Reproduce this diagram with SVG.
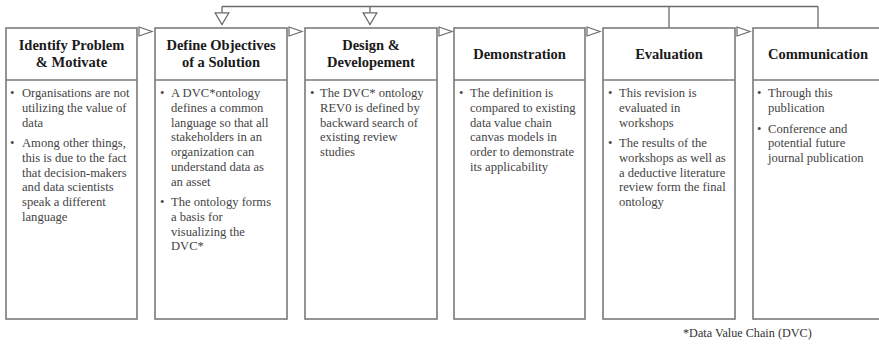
<svg xmlns="http://www.w3.org/2000/svg" xmlns:xlink="http://www.w3.org/1999/xlink" width="879" height="350" viewBox="0 0 879 350">
  <style>
    .box { fill: #ffffff; stroke: #7a7a7a; stroke-width: 1.6; }
    .div { stroke: #7a7a7a; stroke-width: 1.6; }
    .conn { fill: none; stroke: #6a6a6a; stroke-width: 1.3; }
    .tri { fill: #ffffff; stroke: #6a6a6a; stroke-width: 1.2; stroke-linejoin: miter; }
    text { font-family: 'Liberation Serif', 'DejaVu Serif', serif; }
    .head { font-weight: bold; font-size: 14.5px; fill: #1a1a1a; text-anchor: middle; }
    .body text { font-size: 12.6px; fill: #444444; }
    .note { font-size: 12.2px; fill: #333333; }
  </style>
  <defs>
    <marker id="arrow-down" markerUnits="userSpaceOnUse" markerWidth="16" markerHeight="16" viewBox="-1 -1 14 15" refX="11" refY="6.5" orient="auto">
      <path d="M0,0 L11,6.5 L0,13 Z" class="tri"/>
    </marker>
    <polygon id="tri-right" points="0,-4.5 0,4.5 13,0" class="tri"/>
  </defs>

  <rect width="879" height="350" fill="#ffffff"/>

  <!-- connectors: feedback bus along the top and flow triangles between steps -->
  <g id="connectors">
    <path class="conn" d="M222,6.5 H818"/>
    <path class="conn" d="M222,6.5 V24.5" marker-end="url(#arrow-down)"/>
    <path class="conn" d="M370,6.5 V24.5" marker-end="url(#arrow-down)"/>
    <path class="conn" d="M669,6.5 V28"/>
    <path class="conn" d="M818,6.5 V28"/>
    <use xlink:href="#tri-right" x="139" y="31.5"/>
    <use xlink:href="#tri-right" x="289" y="31.5"/>
    <use xlink:href="#tri-right" x="439" y="31.5"/>
    <use xlink:href="#tri-right" x="587" y="31.5"/>
    <use xlink:href="#tri-right" x="737" y="31.5"/>
  </g>

  <g id="identify">
    <rect class="box" x="6" y="28" width="131" height="291"/>
    <line class="div" x1="6" y1="80" x2="137" y2="80"/>
    <text class="head" x="71.5" y="50">Identify Problem</text>
    <text class="head" x="71.5" y="67">&amp; Motivate</text>
    <g class="body">
      <text x="10" y="97.3">•</text>
      <text x="22" y="97.3">Organisations are not</text>
      <text x="22" y="112">utilizing  the value of</text>
      <text x="22" y="126.7">data</text>
      <text x="10" y="147.3">•</text>
      <text x="22" y="147.3">Among other things,</text>
      <text x="22" y="162">this is due to the fact</text>
      <text x="22" y="176.7">that decision-makers</text>
      <text x="22" y="191.4">and data scientists</text>
      <text x="22" y="206.1">speak a different</text>
      <text x="22" y="220.8">language</text>
    </g>
  </g>

  <g id="objectives">
    <rect class="box" x="155" y="28" width="132" height="291"/>
    <line class="div" x1="155" y1="80" x2="287" y2="80"/>
    <text class="head" x="221" y="50">Define Objectives</text>
    <text class="head" x="221" y="67">of a Solution</text>
    <g class="body">
      <text x="160" y="97.3">•</text>
      <text x="171" y="97.3">A DVC*ontology</text>
      <text x="171" y="112">defines a common</text>
      <text x="171" y="126.7">language so that all</text>
      <text x="171" y="141.4">stakeholders in an</text>
      <text x="171" y="156.1">organization can</text>
      <text x="171" y="170.8">understand data as</text>
      <text x="171" y="185.5">an asset</text>
      <text x="160" y="206.1">•</text>
      <text x="171" y="206.1">The ontology forms</text>
      <text x="171" y="220.8">a basis for</text>
      <text x="171" y="235.5">visualizing  the</text>
      <text x="171" y="250.2">DVC*</text>
    </g>
  </g>

  <g id="design">
    <rect class="box" x="305" y="28" width="132" height="291"/>
    <line class="div" x1="305" y1="80" x2="437" y2="80"/>
    <text class="head" x="371" y="50">Design &amp;</text>
    <text class="head" x="371" y="67">Developement</text>
    <g class="body">
      <text x="310" y="97.3">•</text>
      <text x="320" y="97.3">The DVC* ontology</text>
      <text x="320" y="112">REV0 is defined by</text>
      <text x="320" y="126.7">backward search of</text>
      <text x="320" y="141.4">existing review</text>
      <text x="320" y="156.1">studies</text>
    </g>
  </g>

  <g id="demonstration">
    <rect class="box" x="454" y="28" width="131" height="291"/>
    <line class="div" x1="454" y1="80" x2="585" y2="80"/>
    <text class="head" x="519.5" y="59">Demonstration</text>
    <g class="body">
      <text x="459" y="97.3">•</text>
      <text x="470" y="97.3">The definition is</text>
      <text x="470" y="112">compared to existing</text>
      <text x="470" y="126.7">data value chain</text>
      <text x="470" y="141.4">canvas models in</text>
      <text x="470" y="156.1">order to demonstrate</text>
      <text x="470" y="170.8">its applicability</text>
    </g>
  </g>

  <g id="evaluation">
    <rect class="box" x="603" y="28" width="132" height="291"/>
    <line class="div" x1="603" y1="80" x2="735" y2="80"/>
    <text class="head" x="669" y="59">Evaluation</text>
    <g class="body">
      <text x="608" y="97.3">•</text>
      <text x="619" y="97.3">This revision is</text>
      <text x="619" y="112">evaluated in</text>
      <text x="619" y="126.7">workshops</text>
      <text x="608" y="147.3">•</text>
      <text x="619" y="147.3">The results of the</text>
      <text x="619" y="162">workshops as well as</text>
      <text x="619" y="176.7">a deductive literature</text>
      <text x="619" y="191.4">review form the final</text>
      <text x="619" y="206.1">ontology</text>
    </g>
  </g>

  <g id="communication">
    <rect class="box" x="753" y="28" width="132" height="291"/>
    <line class="div" x1="753" y1="80" x2="885" y2="80"/>
    <text class="head" x="818" y="59">Communication</text>
    <g class="body">
      <text x="757" y="97.3">•</text>
      <text x="768" y="97.3">Through this</text>
      <text x="768" y="112">publication</text>
      <text x="757" y="132.6">•</text>
      <text x="768" y="132.6">Conference and</text>
      <text x="768" y="147.3">potential future</text>
      <text x="768" y="162">journal publication</text>
    </g>
  </g>

  <text id="footnote" class="note" x="683" y="337">*Data Value Chain (DVC)</text>
</svg>
